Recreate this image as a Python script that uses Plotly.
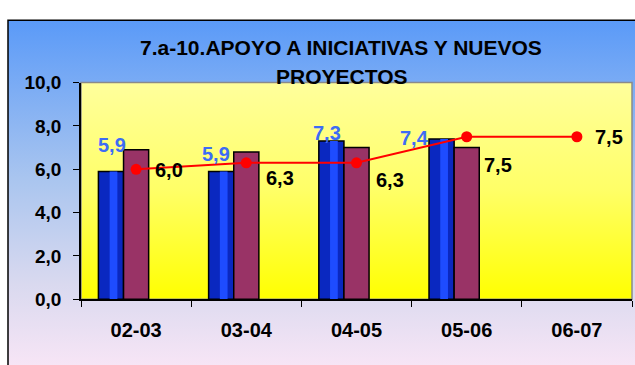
import base64
import plotly.graph_objects as go

# ---- data ----
categories = ["02-03", "03-04", "04-05", "05-06", "06-07"]
serie_centro = [5.9, 5.9, 7.3, 7.4, None]
serie_media = [6.9, 6.8, 7.0, 7.0, None]
serie_objetivo = [6.0, 6.3, 6.3, 7.5, 7.5]
y_ticks = [0, 2, 4, 6, 8, 10]

# label offsets (pixels) for value labels
centro_shift = [(-24, 26), (-30, 17), (-30, 8), (-52, 1), None]
objetivo_shift = [(33, -1), (34, -15), (33, -17), (31, -28), (32, 0)]

W, H = 635, 365
PX0, PX1, PY0, PY1 = 81, 632, 77, 307  # plot area in pixels

FONT = "Liberation Sans, Arial, sans-serif"


def svg_gradient(stops, w=10, h=100):
    st = "".join(
        f'<stop offset="{o}" stop-color="{c}"/>' for o, c in stops
    )
    svg = (
        f'<svg xmlns="http://www.w3.org/2000/svg" width="{w}" height="{h}" '
        f'preserveAspectRatio="none" viewBox="0 0 {w} {h}">'
        f'<defs><linearGradient id="g" x1="0" y1="0" x2="0" y2="1">{st}'
        f'</linearGradient></defs><rect width="{w}" height="{h}" fill="url(#g)"/></svg>'
    )
    return "data:image/svg+xml;base64," + base64.b64encode(svg.encode()).decode()


def px(x):
    return x / W


def py(y):
    return 1 - y / H


def fmt(v):
    return f"{v:.1f}".replace(".", ",")


fig = go.Figure()

bar_w = 0.228
fig.add_trace(go.Bar(
    x=categories, y=serie_centro, width=bar_w, offset=-0.342,
    marker=dict(color="#0a28c0", line=dict(color="black", width=1.5)),
    showlegend=False, hoverinfo="skip",
))
# lighter stripe inside the blue bars
fig.add_trace(go.Bar(
    x=categories, y=serie_centro, width=0.07, offset=-0.24,
    marker=dict(color="#1e4cff", line=dict(width=0)),
    base=0, showlegend=False, hoverinfo="skip",
))
fig.add_trace(go.Bar(
    x=categories, y=serie_media, width=bar_w, offset=-0.114,
    marker=dict(color="#993366", line=dict(color="black", width=1.5)),
    showlegend=False, hoverinfo="skip",
))
fig.add_trace(go.Scatter(
    x=categories, y=serie_objetivo, mode="lines+markers",
    line=dict(color="#ff0000", width=2),
    marker=dict(color="#ff0000", size=11),
    showlegend=False, hoverinfo="skip",
))

annotations = []
for c, v, s in zip(categories, serie_centro, centro_shift):
    if v is None:
        continue
    annotations.append(dict(
        x=c, y=v, xref="x", yref="y", text=fmt(v), showarrow=False,
        xshift=s[0], yshift=s[1], xanchor="center", yanchor="middle",
        font=dict(family=FONT, size=20, color="#3d6cf5", weight="bold"),
    ))
for c, v, s in zip(categories, serie_objetivo, objetivo_shift):
    annotations.append(dict(
        x=c, y=v, xref="x", yref="y", text=fmt(v), showarrow=False,
        xshift=s[0], yshift=s[1], xanchor="center", yanchor="middle",
        font=dict(family=FONT, size=20, color="black", weight="bold"),
    ))

title_lines = ["7.a-10.APOYO A INICIATIVAS Y NUEVOS", "PROYECTOS"]
for line, yc in zip(title_lines, [40, 71]):
    annotations.append(dict(
        x=px(341), y=py(yc), xref="paper", yref="paper", text=line,
        showarrow=False, xanchor="center", yanchor="middle",
        font=dict(family=FONT, size=21, color="black", weight="bold"),
    ))

images = [
    # chart area background
    dict(source=svg_gradient([(0, "#5a9af8"), (0.45, "#a9c5ef"), (0.75, "#d9d9ef"), (1, "#f9e6f6")]),
         xref="paper", yref="paper", x=px(8), y=py(11), sizex=1.1, sizey=py(11) + 0.05,
         sizing="stretch", xanchor="left", yanchor="top", layer="below"),
    # plot area background
    dict(source=svg_gradient([(0, "#ffff9c"), (0.5, "#ffff66"), (1, "#ffff00")]),
         xref="paper", yref="paper", x=px(PX0), y=py(PY0), sizex=px(PX1) - px(PX0),
         sizey=py(PY0) - py(PY1), sizing="stretch", xanchor="left", yanchor="top",
         layer="below"),
]

shapes = [
    # chart frame
    dict(type="rect", xref="paper", yref="paper", x0=px(8), x1=1.2,
         y0=-0.2, y1=py(11), line=dict(color="black", width=1.5), layer="below"),
    # plot area border
    dict(type="rect", xref="paper", yref="paper", x0=px(PX0), x1=px(PX1),
         y0=py(PY1), y1=py(PY0), line=dict(color="#8a8a8a", width=1.5), layer="below"),
]

fig.update_layout(
    width=W, height=H, autosize=False,
    margin=dict(l=0, r=0, t=0, b=0),
    paper_bgcolor="white", plot_bgcolor="rgba(0,0,0,0)",
    separators=",.",
    barmode="overlay",
    annotations=annotations, images=images, shapes=shapes,
    xaxis=dict(
        domain=[px(PX0), px(PX1)], type="category", range=[-0.5, 4.5],
        showline=True, linecolor="black", linewidth=1.5,
        ticks="outside", ticklen=6, tickcolor="black", tickson="boundaries",
        showgrid=False, zeroline=False,
        tickfont=dict(family=FONT, size=20, color="black", weight="bold"),
        ticklabelstandoff=12,
    ),
    yaxis=dict(
        domain=[py(PY1), py(PY0)], range=[0, 10], tickvals=y_ticks,
        tickformat=".1f", showline=True, linecolor="black", linewidth=1.5,
        ticks="outside", ticklen=6, tickcolor="black",
        showgrid=False, zeroline=False,
        tickfont=dict(family=FONT, size=19, color="black", weight="bold"),
        ticklabelstandoff=8,
    ),
)

fig.write_html("out.html")
